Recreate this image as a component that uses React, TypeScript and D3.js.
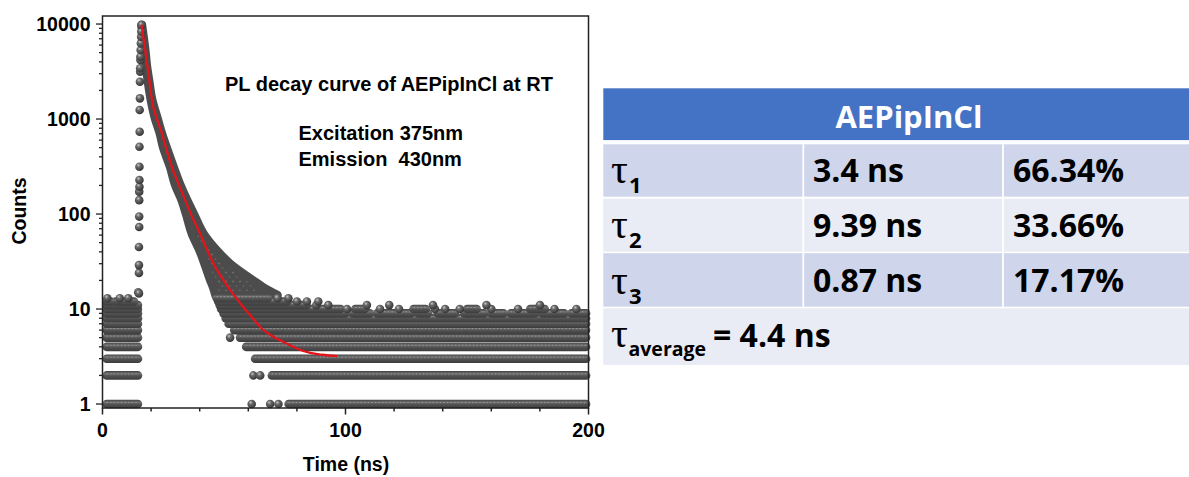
import React from "react";
import * as d3 from "d3";

const WIDTH = 1189;
const HEIGHT = 477;

// Photon counts per channel that repeat over a time span: [counts, from ns, to ns]
const countRuns: [number, number, number][] = [
  // background before the excitation pulse
  [1, 1.7, 14.6], [2, 1.7, 14.6], [3, 1.7, 14.6], [4, 1.7, 14.6], [5, 1.7, 14.6],
  [6, 1.7, 14.6], [7, 1.7, 14.6], [8, 1.7, 14.6], [9, 1.7, 14.6], [10, 1.7, 14.6],
  [11, 1.7, 14.6], [12, 1.7, 3.4], [12, 5.4, 13.0],
  // long-time tail
  [1, 76.6, 199], [2, 69.7, 199], [3, 62.8, 199], [4, 59.1, 199], [5, 56.6, 199],
  [6, 54.2, 199], [7, 51.9, 199], [8, 50.7, 199],
  [9, 49.8, 100], [9, 103, 110], [9, 113, 127], [9, 130, 134], [9, 138, 145],
  [9, 149, 157], [9, 160, 165], [9, 168, 178], [9, 181, 190], [9, 193, 199],
  [10, 48.8, 98], [10, 104, 108], [10, 128, 133], [10, 150, 154], [10, 176, 182],
  [11, 48.2, 84], [12, 47.6, 76], [13, 47.0, 68],
];

// Channels standing alone: [time ns, counts]
const isolatedPoints: [number, number][] = [
  [2.0, 13], [7.1, 13], [10.6, 13], [14.7, 15],
  [52.5, 5], [61.4, 1], [69.0, 1], [72.4, 1], [62.1, 2], [64.9, 2],
  [100.6, 10], [114.2, 10], [122.0, 10], [136.8, 10], [141.0, 10],
  [147.0, 10], [160.0, 10], [171.0, 10], [186.0, 10], [195.0, 10],
  [88.0, 11], [92.9, 11], [108.8, 11], [118.0, 11], [136.0, 11], [158.0, 11], [180.0, 11],
  [80.0, 12], [84.1, 12], [88.8, 12],
  [72.0, 13], [76.5, 13],
];

// Rising edge of the excitation pulse: [time ns, counts]
const risingEdge: [number, number][] = [
  [15.0, 14.6], [15.0, 24], [15.0, 29], [15.0, 45], [15.1, 73], [15.1, 94],
  [15.1, 140], [15.1, 172], [15.2, 194], [15.2, 228], [15.2, 315], [15.2, 511],
  [15.3, 735], [15.3, 1245], [15.4, 1650], [15.4, 2470], [15.5, 3150],
  [15.5, 3420], [15.6, 4180], [15.6, 4530], [15.7, 5320], [15.8, 6260],
  [15.9, 7350], [16.0, 8300], [16.1, 9760],
];

// Spread of the decaying counts: counts level and the time span it covers
const decaySpread: { count: number; from: number; to: number }[] = [
  { count: 9800, from: 16.0, to: 16.2 },
  { count: 7000, from: 16.6, to: 17.0 },
  { count: 5000, from: 17.3, to: 17.7 },
  { count: 3700, from: 17.8, to: 18.2 },
  { count: 2500, from: 18.7, to: 19.2 },
  { count: 1650, from: 19.8, to: 20.3 },
  { count: 1000, from: 21.7, to: 22.7 },
  { count: 707, from: 23.6, to: 24.4 },
  { count: 500, from: 25.0, to: 26.4 },
  { count: 315, from: 27.8, to: 29.2 },
  { count: 200, from: 30.0, to: 32.1 },
  { count: 140, from: 32.6, to: 34.8 },
  { count: 100, from: 34.4, to: 37.6 },
  { count: 62, from: 36.8, to: 41.6 },
  { count: 40, from: 40.2, to: 47.6 },
  { count: 30, from: 42.0, to: 52.5 },
  { count: 20, from: 44.4, to: 62.0 },
  { count: 17, from: 45.5, to: 66.0 },
  { count: 14, from: 46.5, to: 72.0 },
];

// Tri-exponential fit: [time ns, counts]
const fitCurve: [number, number][] = [
  [16.1, 9800], [16.9, 7000], [17.9, 4600], [19.1, 2800], [20.3, 1600],
  [22.4, 1000], [24.4, 710], [26.4, 470], [28.5, 315], [31.2, 210],
  [34.0, 140], [37.0, 92], [40.2, 62], [43.2, 41], [46.3, 28], [50.4, 19],
  [54.6, 13.5], [57.9, 10.5], [60.8, 8.6], [65.6, 6.2], [70.4, 5.1],
  [76.0, 4.3], [80.4, 3.8], [85.5, 3.45], [90.4, 3.3], [96.6, 3.2],
];

const timeDomain: [number, number] = [0, 200];
const countDomain: [number, number] = [0.908, 12150];

// Lifetime table
const tableTitle = "AEPipInCl";
const tauIndex = ["1", "2", "3"];
const tauValues = ["3.4 ns", "9.39 ns", "0.87 ns"];
const tauShares = ["66.34%", "33.66%", "17.17%"];
const tauAverage = "4.4 ns";

const R = 4.3;
const AXIS_FONT = "'Liberation Sans', Arial, sans-serif";
const TABLE_FONT = "'Open Sans', 'Noto Sans', sans-serif";
const GREEK_FONT = "'Liberation Serif', 'DejaVu Serif', serif";

export default function App() {
  const x = d3.scaleLinear().domain(timeDomain).range([102.5, 588.5]);
  const y = d3.scaleLog().domain(countDomain).range([408, 16]);

  const xAll = x.ticks(8);
  const yAll = y.ticks().filter((v) => v >= 1 && v <= 10000);
  const isMajorY = (v: number) => Math.abs(Math.log10(v) - Math.round(Math.log10(v))) < 1e-9;

  const spreadArea = d3
    .area<{ count: number; from: number; to: number }>()
    .y((d) => y(d.count))
    .x0((d) => x(d.from))
    .x1((d) => x(d.to))
    .curve(d3.curveMonotoneY);

  const fitLine = d3
    .line<[number, number]>()
    .x((d) => x(d[0]))
    .y((d) => y(d[1]))
    .curve(d3.curveMonotoneX);

  const [px0, px1] = x.range();
  const [py0, py1] = y.range();

  // table geometry
  const tX0 = 603.3;
  const tX1 = 1210;
  const col2 = 803.3;
  const col3 = 1003;
  const rowTops = [144.3, 198.7, 253.2, 308.3];
  const rowHeights = [52.4, 53.0, 53.5, 56.7];
  const rowFills = ["#CFD5EA", "#E9EBF5", "#CFD5EA", "#E9EBF5"];
  const baselines = [181.7, 236.7, 292.3];

  return (
    <svg
      width={WIDTH}
      height={HEIGHT}
      viewBox={`0 0 ${WIDTH} ${HEIGHT}`}
      style={{ position: "absolute", left: 0, top: 0, display: "block", background: "#fff" }}
    >
      <defs>
        <radialGradient id="sphere" cx="38%" cy="32%" r="65%">
          <stop offset="0%" stopColor="#c8c8c8" />
          <stop offset="35%" stopColor="#6a6a6a" />
          <stop offset="100%" stopColor="#383838" />
        </radialGradient>
        <linearGradient id="runShade" x1="0" y1="0" x2="0" y2="1">
          <stop offset="0%" stopColor="#444" />
          <stop offset="30%" stopColor="#727272" />
          <stop offset="55%" stopColor="#525252" />
          <stop offset="100%" stopColor="#3c3c3c" />
        </linearGradient>
        <pattern id="speckle" patternUnits="userSpaceOnUse" width="7" height="9">
          <rect width="7" height="9" fill="#4c4c4c" />
          <circle cx="2" cy="2.5" r="1.1" fill="#9a9a9a" opacity="0.4" />
          <circle cx="5.5" cy="7" r="0.9" fill="#8a8a8a" opacity="0.35" />
        </pattern>
      </defs>

      {/* decay spread */}
      <path
        d={spreadArea(decaySpread) ?? ""}
        fill="url(#speckle)"
        stroke="#4c4c4c"
        strokeWidth={2 * R}
        strokeLinejoin="round"
      />

      {/* runs of equal counts */}
      {countRuns.map(([c, t0, t1], i) => {
        const xa = x(t0) - R;
        const xb = x(t1) + R;
        const yc = y(c);
        return (
          <g key={`run-${i}`}>
            <rect x={xa} y={yc - R} width={xb - xa} height={2 * R} rx={R} fill="url(#runShade)" />
            <line
              x1={xa + R}
              x2={xb - R}
              y1={yc - R * 0.35}
              y2={yc - R * 0.35}
              stroke="#b0b0b0"
              strokeWidth={1}
              strokeDasharray="1.2 2.4"
              opacity={0.7}
            />
          </g>
        );
      })}

      {/* single channels */}
      {[...isolatedPoints, ...risingEdge].map(([t, c], i) => (
        <circle key={`pt-${i}`} cx={x(t)} cy={y(c)} r={R} fill="url(#sphere)" />
      ))}

      {/* fit */}
      <path d={fitLine(fitCurve) ?? ""} fill="none" stroke="#e3141c" strokeWidth={2.3} />

      {/* frame */}
      <rect
        x={px0}
        y={py1}
        width={px1 - px0}
        height={py0 - py1}
        fill="none"
        stroke="#222"
        strokeWidth={1.5}
      />

      {/* x axis */}
      {xAll.map((v) => {
        const major = v % 50 === 0;
        return (
          <g key={`xt-${v}`}>
            <line x1={x(v)} x2={x(v)} y1={py0} y2={py0 + (major ? 6.5 : 3.5)} stroke="#222" strokeWidth={1.5} />
            {major && (
              <text
                x={x(v)}
                y={437}
                textAnchor="middle"
                fontFamily={AXIS_FONT}
                fontWeight={700}
                fontSize={19.5}
                fill="#000"
              >
                {v}
              </text>
            )}
          </g>
        );
      })}

      {/* y axis */}
      {yAll.map((v) => {
        const major = isMajorY(v);
        return (
          <g key={`yt-${v}`}>
            <line x1={px0} x2={px0 - (major ? 6.5 : 3.5)} y1={y(v)} y2={y(v)} stroke="#222" strokeWidth={1.3} />
            {major && (
              <text
                x={90.5}
                y={y(v)}
                dy="0.36em"
                textAnchor="end"
                fontFamily={AXIS_FONT}
                fontWeight={700}
                fontSize={19.5}
                fill="#000"
              >
                {v}
              </text>
            )}
          </g>
        );
      })}

      <text
        x={346}
        y={470.5}
        textAnchor="middle"
        fontFamily={AXIS_FONT}
        fontWeight={700}
        fontSize={19.5}
        fill="#000"
      >
        Time (ns)
      </text>
      <text
        transform="translate(26,211) rotate(-90)"
        textAnchor="middle"
        fontFamily={AXIS_FONT}
        fontWeight={700}
        fontSize={19.5}
        fill="#000"
      >
        Counts
      </text>

      {/* annotations */}
      <text x={225} y={90.5} fontFamily={AXIS_FONT} fontWeight={700} fontSize={20} fill="#000">
        PL decay curve of AEPipInCl at RT
      </text>
      <text x={298.5} y={140} fontFamily={AXIS_FONT} fontWeight={700} fontSize={20} fill="#000">
        Excitation 375nm
      </text>
      <text
        x={298.5}
        y={165.5}
        fontFamily={AXIS_FONT}
        fontWeight={700}
        fontSize={20}
        fill="#000"
        xmlSpace="preserve"
        style={{ whiteSpace: "pre" }}
      >
        {"Emission  430nm"}
      </text>

      {/* lifetime table */}
      <rect x={tX0} y={88.3} width={tX1 - tX0} height={51.8} fill="#4472C4" />
      <text
        x={909}
        y={128.3}
        textAnchor="middle"
        fontFamily={TABLE_FONT}
        fontWeight={700}
        fontSize={31}
        fill="#fff"
      >
        {tableTitle}
      </text>
      {rowTops.map((top, i) => (
        <rect key={`row-${i}`} x={tX0} y={top} width={tX1 - tX0} height={rowHeights[i]} fill={rowFills[i]} />
      ))}
      {[col2, col3].map((cx) => (
        <rect key={`col-${cx}`} x={cx - 0.9} y={rowTops[0]} width={1.8} height={rowTops[3] - rowTops[0]} fill="#fff" />
      ))}
      {tauIndex.map((idx, i) => (
        <g key={`tau-${idx}`}>
          <text x={611} y={baselines[i] + 1.6} fontFamily={GREEK_FONT} fontSize={42} fill="#000">
            τ
          </text>
          <text
            x={629}
            y={baselines[i] + 11.6}
            fontFamily={TABLE_FONT}
            fontWeight={700}
            fontSize={22}
            fill="#000"
          >
            {idx}
          </text>
          <text x={813} y={baselines[i]} fontFamily={TABLE_FONT} fontWeight={700} fontSize={32} fill="#000">
            {tauValues[i]}
          </text>
          <text x={1013} y={baselines[i]} fontFamily={TABLE_FONT} fontWeight={700} fontSize={32} fill="#000">
            {tauShares[i]}
          </text>
        </g>
      ))}
      <text x={611} y={346.7} fontFamily={GREEK_FONT} fontSize={42} fill="#000">
        τ
      </text>
      <text x={628.5} y={356} fontFamily={TABLE_FONT} fontWeight={700} fontSize={19.5} fill="#000">
        average
      </text>
      <text x={713} y={346.7} fontFamily={TABLE_FONT} fontWeight={700} fontSize={32} fill="#000">
        {`= ${tauAverage}`}
      </text>
    </svg>
  );
}
